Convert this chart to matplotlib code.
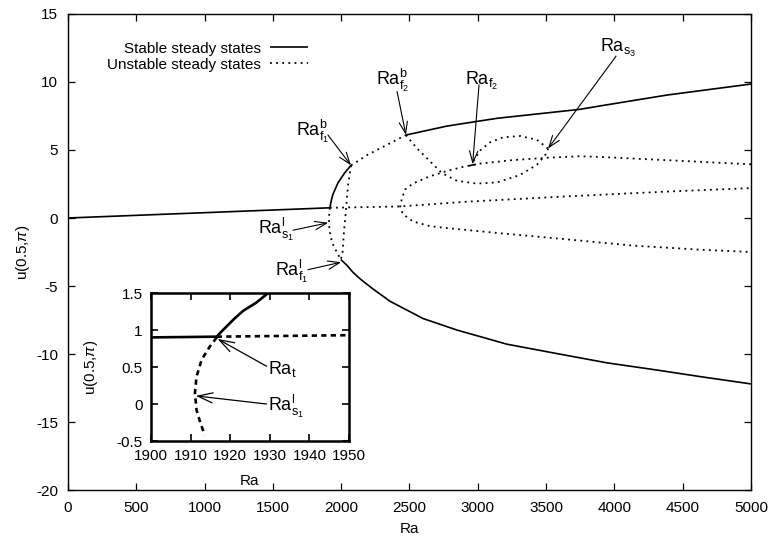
import matplotlib
matplotlib.use("Agg")
import matplotlib.pyplot as plt

plt.rcParams['font.family'] = ['Liberation Sans', 'DejaVu Sans']
plt.rcParams['mathtext.fontset'] = 'custom'
plt.rcParams['mathtext.rm'] = 'Liberation Sans'
plt.rcParams['mathtext.it'] = 'Liberation Sans:italic'
plt.rcParams['mathtext.sf'] = 'Liberation Sans'
plt.rcParams['axes.unicode_minus'] = False

# ---------------- main plot data ----------------
xticks = [0, 500, 1000, 1500, 2000, 2500, 3000, 3500, 4000, 4500, 5000]
yticks = [-20, -15, -10, -5, 0, 5, 10, 15]

# stable branches
ra_st_a = [0, 1917]
u_st_a = [0.0, 0.75]
ra_st_b = [1917, 1922, 1930, 1940, 1977, 2028, 2072]
u_st_b = [0.75, 1.0, 1.4, 1.75, 2.6, 3.35, 3.87]
ra_st_c = [2474, 2775, 3141, 3748, 3895, 4385, 5000]
u_st_c = [6.1, 6.76, 7.33, 7.99, 8.24, 9.04, 9.85]
ra_st_d = [1997, 2042, 2086, 2138, 2233, 2357, 2599, 2848, 3214, 3580, 3946, 4312, 4627, 5000]
u_st_d = [-3.05, -3.48, -3.99, -4.47, -5.22, -6.12, -7.39, -8.24, -9.28, -9.97, -10.65, -11.18, -11.66, -12.2]
ra_st_e = [2936, 2987]
u_st_e = [3.84, 3.95]

# unstable branches
ra_un_mid = [1917, 2430, 2921, 3653, 4400, 5000]
u_un_mid = [0.75, 0.85, 1.2, 1.59, 1.95, 2.2]
ra_un_f1 = [2072, 2189, 2306, 2474]
u_un_f1 = [3.87, 4.62, 5.23, 6.1]
ra_un_v = [2072, 2050, 2035, 2020, 2010, 1997]
u_un_v = [3.87, 2.39, 0.63, -1.07, -2.54, -3.05]
ra_un_s1 = [1917, 1912, 1911, 1913, 1918, 1933, 1962, 1997]
u_un_s1 = [0.75, 0.2, -0.33, -0.7, -1.07, -1.8, -2.4, -3.05]
ra_un_loop = [2474, 2555, 2650, 2738, 2848, 2994, 3141, 3309, 3433, 3507, 3514]
u_un_loop = [6.1, 5.12, 4.17, 3.30, 2.73, 2.53, 2.62, 3.16, 3.91, 4.80, 5.1]
ra_un_top = [3514, 3433, 3309, 3184, 3089, 3016, 2975, 2965]
u_un_top = [5.1, 5.75, 6.03, 5.93, 5.56, 4.96, 4.3, 3.9]
ra_un_c = [5000, 3895, 3748, 3507, 3258, 3016, 2892, 2775, 2650, 2526, 2467, 2445, 2432,
           2450, 2526, 2650, 2775, 3163, 3653, 4136, 4627, 5000]
u_un_c = [3.95, 4.49, 4.54, 4.43, 4.26, 4.0, 3.76, 3.46, 3.07, 2.54, 2.09, 1.45, 0.85,
          0.3, -0.26, -0.6, -0.74, -1.12, -1.57, -2.03, -2.33, -2.5]

# annotations: label, text position, arrow tail, arrow head
ann_labels = [r'$\mathrm{Ra}_{\mathrm{f}_1}^{\mathrm{b}}$', r'$\mathrm{Ra}_{\mathrm{f}_2}^{\mathrm{b}}$',
              r'$\mathrm{Ra}_{\mathrm{f}_2}$', r'$\mathrm{Ra}_{\mathrm{s}_3}$',
              r'$\mathrm{Ra}_{\mathrm{s}_1}^{\mathrm{l}}$', r'$\mathrm{Ra}_{\mathrm{f}_1}^{\mathrm{l}}$']
ann_text = [(1790, 6.4), (2375, 10.1), (3025, 10.1), (4030, 12.5), (1525, -0.82), (1635, -3.9)]
ann_tail = [(1903, 6.1), (2409, 9.3), (3009, 9.8), (4012, 11.9), (1647, -0.9), (1757, -3.8)]
ann_head = [(2072, 3.87), (2474, 6.1), (2962, 3.95), (3514, 5.1), (1905, -0.35), (2000, -3.25)]

# ---------------- inset data ----------------
in_xticks = [1900, 1910, 1920, 1930, 1940, 1950]
in_yticks = [-0.5, 0, 0.5, 1, 1.5]
in_ytlabels = ['-0.5', '0', '0.5', '1', '1.5']
in_ra_st = [1900, 1916.6, 1918, 1921, 1923.3, 1926.6, 1929.6]
in_u_st = [0.9, 0.91, 0.99, 1.15, 1.26, 1.37, 1.5]
in_ra_un_h = [1916.6, 1950]
in_u_un_h = [0.91, 0.93]
in_ra_un_c = [1916.6, 1914.9, 1912.8, 1911.5, 1911.1, 1911.5, 1912.5, 1913.6]
in_u_un_c = [0.9, 0.78, 0.6, 0.37, 0.15, -0.08, -0.26, -0.42]
in_labels = [r'$\mathrm{Ra}_{\mathrm{t}}$', r'$\mathrm{Ra}_{\mathrm{s}_1}^{\mathrm{l}}$']
in_text = [(1929.6, 0.47), (1929.6, -0.03)]
in_tail = [(1929.2, 0.51), (1929.2, 0.0)]
in_head = [(1916.8, 0.88), (1911.3, 0.11)]

fig = plt.figure(figsize=(7.68, 5.42), dpi=100)
ax = fig.add_axes([0.0885, 0.0959, 0.8894, 0.8783])

lw_s = 1.2
lw_u = 1.3
dot = (0, (1, 2.4))

st_lines = []
for xs, ys in [(ra_st_a, u_st_a), (ra_st_b, u_st_b), (ra_st_c, u_st_c),
               (ra_st_d, u_st_d), (ra_st_e, u_st_e)]:
    st_lines += ax.plot(xs, ys, color='black', lw=lw_s, solid_capstyle='butt')
un_lines = []
for xs, ys in [(ra_un_mid, u_un_mid), (ra_un_f1, u_un_f1), (ra_un_v, u_un_v),
               (ra_un_s1, u_un_s1), (ra_un_loop, u_un_loop), (ra_un_top, u_un_top),
               (ra_un_c, u_un_c)]:
    un_lines += ax.plot(xs, ys, color='black', lw=lw_u, linestyle=dot)

for lab, tp, tl, hd in zip(ann_labels, ann_text, ann_tail, ann_head):
    ax.text(tp[0], tp[1], lab, ha='center', va='center', fontsize=13)
    ax.annotate('', xy=hd, xytext=tl,
                arrowprops=dict(arrowstyle='->,head_length=0.7,head_width=0.25',
                                lw=0.8, color='black', shrinkA=0, shrinkB=0,
                                mutation_scale=12))

ax.set_xlim(0, 5000)
ax.set_ylim(-20, 15)
ax.set_xticks(xticks)
ax.set_yticks(yticks)
ax.tick_params(direction='in', top=True, right=True, length=5, width=0.9,
               labelsize=11)
ax.tick_params(axis='y', pad=7)
ax.tick_params(axis='x', pad=8)
ax.set_xlabel('Ra', fontsize=11, labelpad=5)
ax.set_ylabel(r'u(0.5,$\pi$)', fontsize=11, labelpad=3)
for s in ax.spines.values():
    s.set_linewidth(1.0)

leg_kw = dict(loc='upper right', frameon=False, markerfirst=False, fontsize=11,
              handlelength=2.5, handletextpad=0.6, borderpad=0, borderaxespad=0)
leg1 = ax.legend([st_lines[0]], ['Stable steady states'],
                 bbox_to_anchor=(0.352, 0.942), **leg_kw)
ax.add_artist(leg1)
leg2 = ax.legend([un_lines[0]], ['Unstable steady states'],
                 bbox_to_anchor=(0.352, 0.908), **leg_kw)

# ---------------- inset ----------------
ins = fig.add_axes([0.1966, 0.1863, 0.2578, 0.2731])
ins.set_facecolor('white')
ins.plot(in_ra_st, in_u_st, color='black', lw=1.9)
ins.plot(in_ra_un_h, in_u_un_h, color='black', lw=1.9, linestyle=(0, (2, 1.6)))
ins.plot(in_ra_un_c, in_u_un_c, color='black', lw=1.9, linestyle=(0, (2, 1.6)))
for lab, tp, tl, hd in zip(in_labels, in_text, in_tail, in_head):
    ins.text(tp[0], tp[1], lab, ha='left', va='center', fontsize=13)
    ins.annotate('', xy=hd, xytext=tl,
                 arrowprops=dict(arrowstyle='->,head_length=0.9,head_width=0.3',
                                 lw=0.9, color='black', shrinkA=0, shrinkB=0,
                                 mutation_scale=12))
ins.set_xlim(1900, 1950)
ins.set_ylim(-0.5, 1.5)
ins.set_xticks(in_xticks)
ins.set_yticks(in_yticks)
ins.set_yticklabels(in_ytlabels)
ins.tick_params(direction='in', top=True, right=True, length=5, width=1.2,
                labelsize=11)
ins.tick_params(axis='y', pad=6)
ins.tick_params(axis='x', pad=6)
ins.set_xlabel('Ra', fontsize=11, labelpad=8)
ins.set_ylabel(r'u(0.5,$\pi$)', fontsize=11, labelpad=12)
for s in ins.spines.values():
    s.set_linewidth(1.8)

fig.savefig('out.png', dpi=100)
